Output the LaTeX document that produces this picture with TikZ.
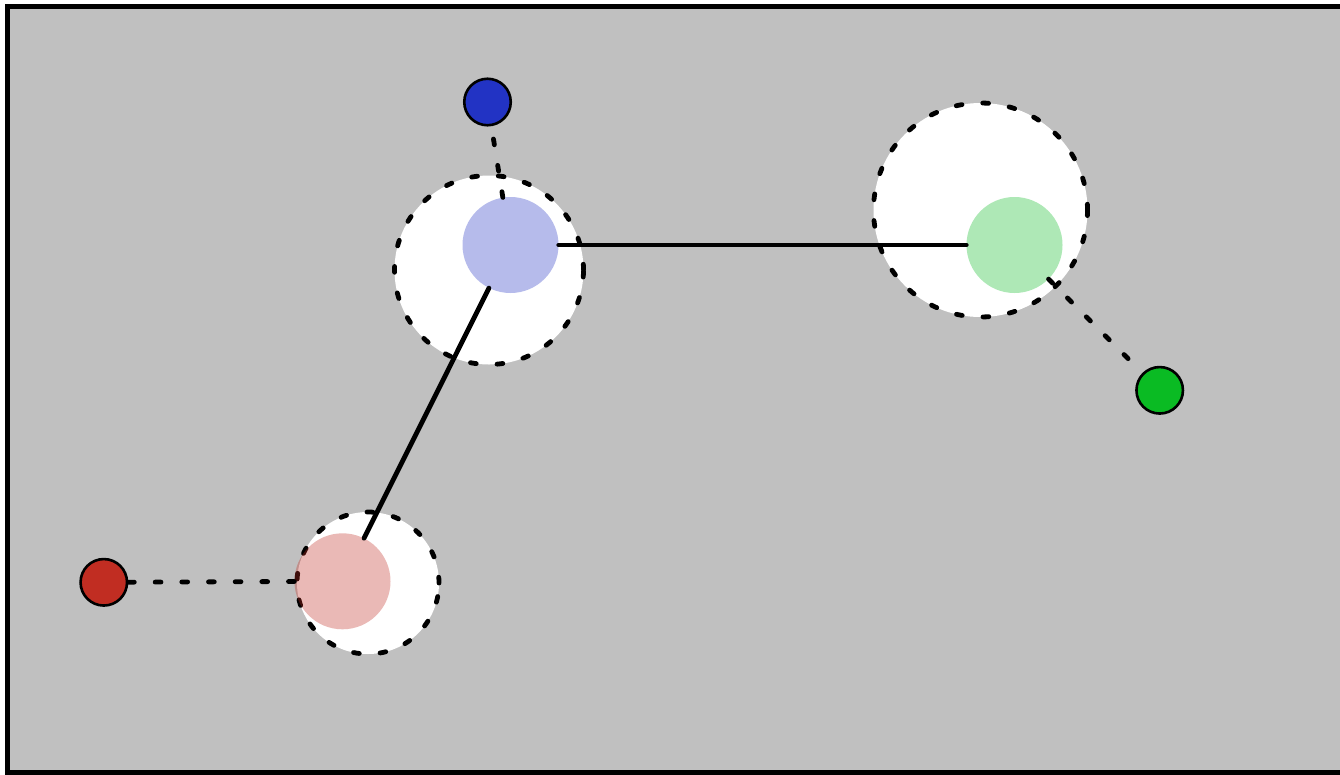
\documentclass[tikz,border=0pt]{standalone}
\pgfdeclarelayer{front}
\pgfsetlayers{main,front}
\begin{document}
\definecolor{panel}{HTML}{C0C0C0}
\definecolor{bluedot}{HTML}{2233C4}
\definecolor{reddot}{HTML}{C12D22}
\definecolor{greendot}{HTML}{0ABB23}
\begin{tikzpicture}[x=1pt,y=-1pt,
  halo/.style={circle, fill=white, draw=black, line width=4.8pt, line cap=round,
    dash pattern=on 5.8pt off 20.87pt, inner sep=0pt, minimum size=#1},
  core/.style={circle, fill=#1, fill opacity=0.33, inner sep=0pt, minimum size=96pt},
  dot/.style={circle, fill=#1, draw=black, line width=2.6pt, inner sep=0pt, minimum size=46.5pt},
  link/.style={line width=4.8pt, line cap=round},
  tether/.style={line width=4.8pt, line cap=round, dash pattern=on 5.8pt off 20.87pt}]
  \clip (0,0) rectangle (1340,774);
  % framed panel
  \draw[fill=panel, line width=5pt] (7.5,6.5) rectangle (1360,772.5);
  % dashed halos
  \node[halo=189pt] (h1) at (489,270) {};
  \node[halo=214pt] (h2) at (980.5,210) {};
  \node[halo=142pt] (h3) at (368,583) {};
  % translucent cores
  \node[core=bluedot]  (cb) at (510.5,245) {};
  \node[core=greendot] (cg) at (1014.5,245) {};
  \node[core=reddot]   (cr) at (342.5,581.3) {};
  % solid links between cores
  \draw[link] (cb) -- (cg);
  \draw[link] (cb) -- (cr);
  % dots, kept above the tethers
  \begin{pgfonlayer}{front}
    \node[dot=bluedot]  (b) at (487.5,102) {};
    \node[dot=greendot] (g) at (1159.7,390.3) {};
    \node[dot=reddot]   (r) at (103.8,582.3) {};
  \end{pgfonlayer}
  % dashed tethers from cores to dots
  \draw[tether] (cb) -- (b);
  \draw[tether] (cg) -- (g);
  \draw[tether] (cr) -- (r);
\end{tikzpicture}
\end{document}
